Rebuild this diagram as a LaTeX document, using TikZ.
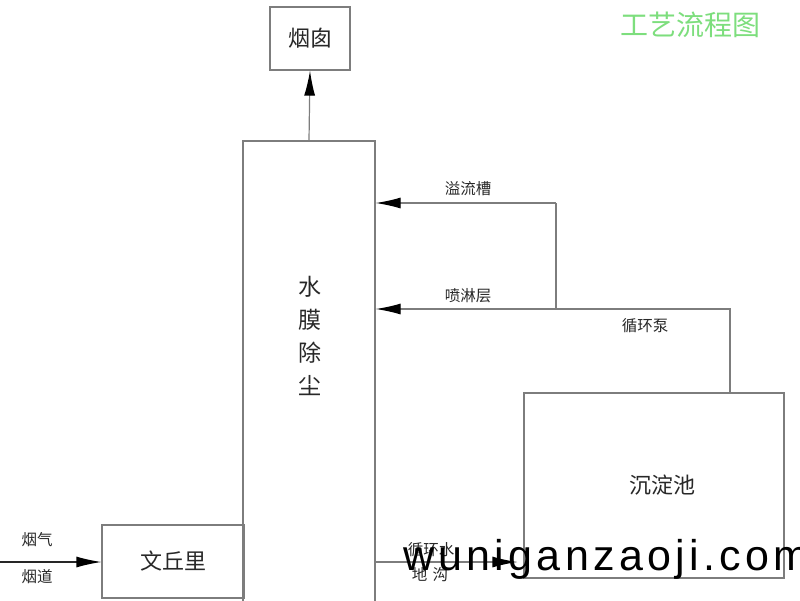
\documentclass[tikz,border=0pt]{standalone}
\usepackage{fontspec}
\setmainfont{Noto Sans CJK SC}
\newfontfamily\wmfont[LetterSpace=10]{Liberation Sans}
\usetikzlibrary{arrows.meta}
\definecolor{linegray}{RGB}{125,125,125}
\definecolor{titlegreen}{RGB}{125,222,125}
\definecolor{txtgray}{RGB}{40,40,40}
\tikzset{
  box/.style={draw=linegray, line width=1.2pt, rectangle, inner sep=0pt, text=txtgray, font=\fontsize{22}{26}\selectfont},
  lab/.style={inner sep=0pt, text=txtgray, font=\fontsize{15.5}{18}\selectfont},
  conn/.style={draw=linegray, line width=1.2pt},
  arr/.style={conn, -{Latex[length=25pt,width=11pt,color=black]}},
}
\begin{document}
\begin{tikzpicture}[x=1pt,y=-1pt]
\useasboundingbox (0,0) rectangle (800,600);
\clip (0,0) rectangle (800,600);
\fill[white] (0,0) rectangle (800,600);

% boxes
\node[box, minimum width=80pt, minimum height=63pt] (yancong) at (310,38.5) {烟囱};
\node[box, minimum width=132pt, minimum height=462pt] (tower) at (309,372) {};
\node[inner sep=0pt, text=txtgray, align=center, font=\fontsize{23}{33}\selectfont] (towerlab) at (310,336) {水\\膜\\除\\尘};
\node[box, minimum width=142pt, minimum height=73pt] (wql) at (173,561.5) {文丘里};
\node[box, minimum width=260pt, minimum height=185pt] (cdc) at (654,485.5) {\hspace*{16pt}沉淀池};

% title
\node[inner sep=0pt, text=titlegreen, font=\fontsize{28}{32}\selectfont] (title) at (690,25) {工艺流程图};

% connectors
\draw[arr] (tower.north) -- (yancong.south);
\coordinate (c1) at (556,203);
\coordinate (c2) at (730,309);
\draw[arr] (c1) -- (tower.east |- c1);
\draw[conn] (c1) -- (c1 |- c2);
\draw[arr] (c2 |- cdc.north) -- (c2) -- (tower.east |- c2);
\coordinate (in) at (0,562);
\draw[arr, draw=black!85] (in) -- (wql.west |- in);
\coordinate (c3) at (375,562);
\draw[arr, shorten >=6pt] (c3) -- (cdc.west |- c3);

% labels
\node[lab] (l1) at (468,189) {溢流槽};
\node[lab] (l2) at (468,296) {喷淋层};
\node[lab] (l3) at (645,326) {循环泵};
\node[lab] (l4) at (37,540) {烟气};
\node[lab] (l5) at (37,577) {烟道};
\node[lab] (l6) at (431,550) {循环水};
\node[lab] (l7) at (430,575) {地\,\,沟};

% watermark
\node[inner sep=0pt, anchor=base west, text=black, font=\wmfont\fontsize{43}{48}\selectfont] (wm) at (403,570) {wuniganzaoji.com};
\end{tikzpicture}
\end{document}
